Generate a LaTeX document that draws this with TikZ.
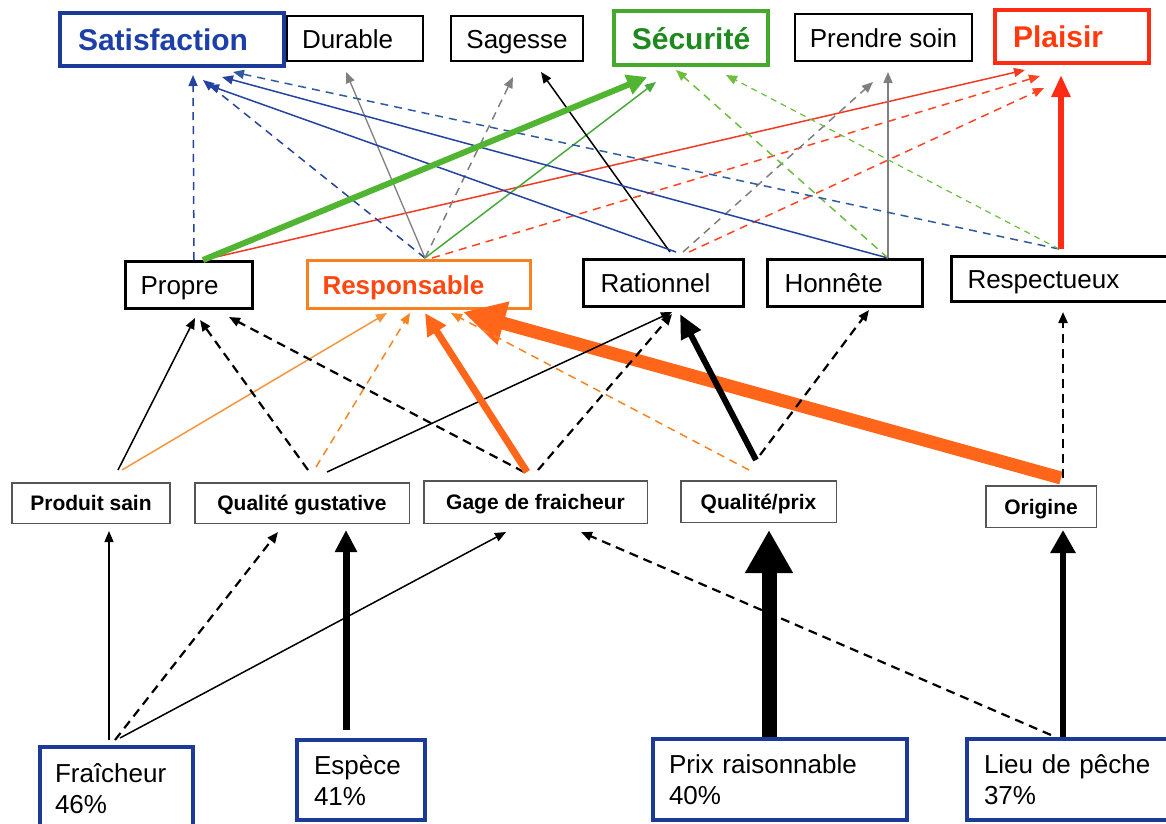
\documentclass[tikz,border=0pt]{standalone}
\usepackage{fontspec}
\setmainfont{Liberation Sans}
\usetikzlibrary{arrows.meta}
\definecolor{satblue}{HTML}{1B3A9A}
\definecolor{satblueT}{HTML}{1C3FA8}
\definecolor{lblue}{HTML}{2443A0}
\definecolor{tblue}{HTML}{2E5C9E}
\definecolor{secgreen}{HTML}{45AA2C}
\definecolor{secgreenT}{HTML}{1E8A1E}
\definecolor{gthick}{HTML}{52B531}
\definecolor{gthin}{HTML}{48A83A}
\definecolor{gdash}{HTML}{6DBD3E}
\definecolor{plared}{HTML}{FF2B14}
\definecolor{plaredT}{HTML}{FF3A0C}
\definecolor{lred}{HTML}{F03A22}
\definecolor{dred}{HTML}{FF4422}
\definecolor{oth}{HTML}{FF661A}
\definecolor{othin}{HTML}{F4963C}
\definecolor{odash}{HTML}{F7841F}
\definecolor{respor}{HTML}{F7821F}
\definecolor{resporT}{HTML}{FF4712}
\definecolor{lgray}{HTML}{7F7F7F}
\definecolor{abox}{HTML}{555555}
\tikzset{
 topbox/.style={draw, line width=2pt, inner sep=0pt, font=\fontsize{26}{31}\selectfont, text height=19pt, text depth=0pt},
 keybox/.style={draw, line width=4pt, inner sep=0pt, font=\fontsize{30}{36}\selectfont\bfseries, text height=22pt, text depth=0pt},
 midbox/.style={draw, line width=3pt, inner sep=0pt, font=\fontsize{26}{31}\selectfont, text height=19pt, text depth=0pt},
 attbox/.style={draw=abox, line width=1.5pt, inner sep=0pt, font=\fontsize{21}{25}\selectfont\bfseries, text height=15pt, text depth=0pt},
 valbox/.style={draw=satblue, line width=4pt, inner sep=0pt, font=\fontsize{26}{31}\selectfont},
 lpad/.style 2 args={inner xsep=#1, text width=#2, align=left},
 con/.style={line width=1.5pt, -{Triangle[length=11pt,width=9pt]}},
 dsh/.style={dash pattern=on 8pt off 6pt},
 bdsh/.style={line width=2.2pt, dash pattern=on 9pt off 6pt},
 thk/.style n args={3}{line width=#1, -{Triangle[length=#2,width=#3]}},
}
\begin{document}
\begin{tikzpicture}[x=1pt,y=-1pt]
\useasboundingbox (0,0) rectangle (1166,823);
% top row
\node[keybox, draw=satblue, text=satblueT, minimum width=224pt, minimum height=53pt, lpad={18pt}{188pt}] (sat) at (172,39.5) {Satisfaction};
\node[topbox, minimum width=136pt, minimum height=45pt, lpad={15pt}{106pt}] (dur) at (355,38.5) {Durable};
\node[topbox, minimum width=132pt, minimum height=45pt] (sag) at (517,38.5) {Sagesse};
\node[keybox, draw=secgreen, text=secgreenT, minimum width=154pt, minimum height=54pt] (sec) at (691,38) {Sécurité};
\node[topbox, minimum width=177pt, minimum height=47pt] (pren) at (883.5,37.5) {Prendre soin};
\node[keybox, draw=plared, text=plaredT, minimum width=154pt, minimum height=53pt, lpad={18pt}{118pt}] (pla) at (1072,36.5) {Plaisir};
% middle row
\node[midbox, minimum width=127pt, minimum height=47pt, lpad={15pt}{97pt}] (pro) at (189,285) {Propre};
\node[midbox, draw=respor, text=resporT, font=\fontsize{26}{31}\selectfont\bfseries, minimum width=223pt, minimum height=48pt, lpad={15pt}{193pt}] (resp) at (419,284.5) {Responsable};
\node[midbox, minimum width=160pt, minimum height=47pt, lpad={17pt}{126pt}] (rat) at (663.5,283) {Rationnel};
\node[midbox, minimum width=155pt, minimum height=47pt, lpad={17pt}{121pt}] (hon) at (845,283) {Honnête};
\node[midbox, minimum width=222pt, minimum height=45pt, lpad={16pt}{190pt}] (rsp) at (1062.5,279) {Respectueux};
% attribute row
\node[attbox, minimum width=158pt, minimum height=40.5pt] (ps) at (91,503) {Produit sain};
\node[attbox, minimum width=214.5pt, minimum height=40.5pt] (qg) at (302,503) {Qualité gustative};
\node[attbox, minimum width=223.5pt, minimum height=42.5pt] (gf) at (535.5,502) {Gage de fraicheur};
\node[attbox, minimum width=155.5pt, minimum height=41.5pt] (qp) at (758.5,501.5) {Qualité/prix};
\node[attbox, minimum width=110.5pt, minimum height=41.5pt] (ori) at (1041,506.5) {Origine};
% bottom row
\node[valbox, minimum width=153pt, minimum height=83pt, lpad={15pt}{123pt}] (fra) at (116.5,788.5) {Fraîcheur\\46\%};
\node[valbox, minimum width=128pt, minimum height=80pt, lpad={17pt}{94pt}] (esp) at (361,780) {Espèce\\41\%};
\node[valbox, minimum width=254pt, minimum height=81pt, lpad={16pt}{222pt}] (prix) at (780,779.5) {Prix raisonnable\\40\%};
\node[valbox, minimum width=211pt, minimum height=81pt, lpad={17pt}{177pt}] (lieu) at (1072.5,779.5) {Lieu de pêche\\37\%};

% ---- top layer
\draw[con, dsh, lblue] ([xshift=5pt]pro.north) -- ([xshift=21pt,yshift=-7pt]sat.south);
\draw[con, lred] ([xshift=14pt]pro.north) -- ([xshift=-47pt,yshift=-5pt]pla.south);
\draw[con, dsh, lblue] ([xshift=6pt,yshift=1pt]resp.north) -- ([xshift=31pt,yshift=-12pt]sat.south);
\draw[con, lgray, line width=1.3pt] ([xshift=6pt,yshift=1pt]resp.north) -- ([xshift=-9pt,yshift=-10pt]dur.south);
\draw[con, dsh, lgray] ([xshift=6pt,yshift=1pt]resp.north) -- ([xshift=-4pt,yshift=-15pt]sag.south);
\draw[con, gthin] ([xshift=6pt,yshift=1pt]resp.north) -- ([xshift=-35pt,yshift=-15pt]sec.south);
\draw[con, dsh, dred] ([xshift=13pt,yshift=1pt]resp.north) -- ([xshift=-32pt,yshift=-11pt]pla.south);
\draw[con, black] ([xshift=6.5pt,yshift=6pt]rat.north) -- ([xshift=24pt,yshift=-10pt]sag.south);
\draw[con, lblue] ([xshift=12.5pt,yshift=6pt]rat.north) -- ([xshift=36pt,yshift=-17pt]sat.south);
\draw[con, dsh, lgray] ([xshift=19.5pt,yshift=6pt]rat.north) -- ([xshift=-10.5pt,yshift=-20pt]pren.south);
\draw[con, dsh, dred] ([xshift=25.5pt,yshift=6pt]rat.north) -- ([xshift=-28pt,yshift=-23pt]pla.south);
\draw[con, lblue] ([xshift=43pt]hon.north) -- ([xshift=50pt,yshift=-9pt]sat.south);
\draw[con, dsh, gdash] ([xshift=43pt]hon.north) -- ([xshift=-15pt,yshift=-3pt]sec.south);
\draw[con, lgray] ([xshift=43pt]hon.north) -- ([xshift=4.5pt,yshift=-10pt]pren.south);
\draw[con, dsh, tblue] ([xshift=-3.5pt,yshift=6pt]rsp.north) -- ([xshift=61pt,yshift=-4pt]sat.south);
\draw[con, gdash, line width=1.2pt, dash pattern=on 6pt off 5pt] ([xshift=-3.5pt,yshift=6pt]rsp.north) -- ([xshift=35pt,yshift=-8pt]sec.south);
\draw[thk={6pt}{20pt}{20pt}, gthick] ([xshift=14pt]pro.north) -- ([xshift=-44pt,yshift=-10pt]sec.south);
\draw[thk={6pt}{22pt}{18pt}, plared] ([xshift=-1.5pt,yshift=6pt]rsp.north) -- ([xshift=-11pt,yshift=-10pt]pla.south);

% ---- middle layer
\draw[thk={13pt}{42pt}{42pt}, oth] ([xshift=20pt,yshift=7pt]ori.north) -- ([xshift=44pt,yshift=-2pt]resp.south);
\draw[con] ([xshift=27pt,yshift=12pt]ps.north) -- ([xshift=6pt,yshift=-8pt]pro.south);
\draw[con, othin] ([xshift=31pt,yshift=12pt]ps.north) -- ([xshift=-32pt,yshift=-3pt]resp.south);
\draw[con, bdsh] ([xshift=6pt,yshift=12pt]qg.north) -- ([xshift=11pt,yshift=-10pt]pro.south);
\draw[con, dsh, odash] ([xshift=14pt,yshift=15pt]qg.north) -- ([xshift=-9pt,yshift=-3pt]resp.south);
\draw[con] ([xshift=25pt,yshift=10pt]qg.north) -- ([xshift=8.5pt,yshift=-4pt]rat.south);
\draw[con, bdsh] ([xshift=-11.5pt,yshift=8pt]gf.north) -- ([xshift=40pt,yshift=-7pt]pro.south);
\draw[con, bdsh] ([xshift=2.5pt,yshift=10pt]gf.north) -- ([xshift=8.5pt,yshift=-6pt]rat.south);
\draw[con, dsh, odash] ([xshift=-9.5pt,yshift=10pt]qp.north) -- ([xshift=32pt,yshift=-3pt]resp.south);
\draw[thk={7pt}{22pt}{21pt}, oth] ([xshift=-8.5pt,yshift=8pt]gf.north) -- ([xshift=6pt,yshift=-3pt]resp.south);
\draw[thk={6pt}{24pt}{21pt}, black] ([xshift=-2.5pt,yshift=20pt]qp.north) -- ([xshift=16.5pt,yshift=-6pt]rat.south);
\draw[con, bdsh] ([xshift=1.5pt,yshift=25pt]qp.north) -- ([xshift=24pt,yshift=-2pt]hon.south);
\draw[con, bdsh] ([xshift=22pt,yshift=7pt]ori.north) -- ([xshift=0.5pt,yshift=-9pt]rsp.south);

% ---- bottom layer
\draw[con] ([xshift=-7.5pt,yshift=5pt]fra.north) -- ([xshift=18pt,yshift=-7pt]ps.south);
\draw[con, bdsh] ([xshift=-1.5pt,yshift=5pt]fra.north) -- ([xshift=-24pt,yshift=-8pt]qg.south);
\draw[con] ([xshift=3.5pt,yshift=7pt]fra.north) -- ([xshift=-29.5pt,yshift=-8pt]gf.south);
\draw[thk={7pt}{22pt}{21pt}, black] ([xshift=-15pt,yshift=8pt]esp.north) -- ([xshift=44pt,yshift=-6pt]qg.south);
\draw[thk={15pt}{43pt}{45pt}, black] ([xshift=-11pt]prix.north) -- ([xshift=10.5pt,yshift=-7pt]qp.south);
\draw[con, bdsh] ([xshift=-21.5pt,yshift=2pt]lieu.north) -- ([xshift=45.5pt,yshift=-8pt]gf.south);
\draw[thk={6pt}{23pt}{24pt}, black] ([xshift=-9.5pt]lieu.north) -- ([xshift=22pt,yshift=-2pt]ori.south);
\end{tikzpicture}
\end{document}
